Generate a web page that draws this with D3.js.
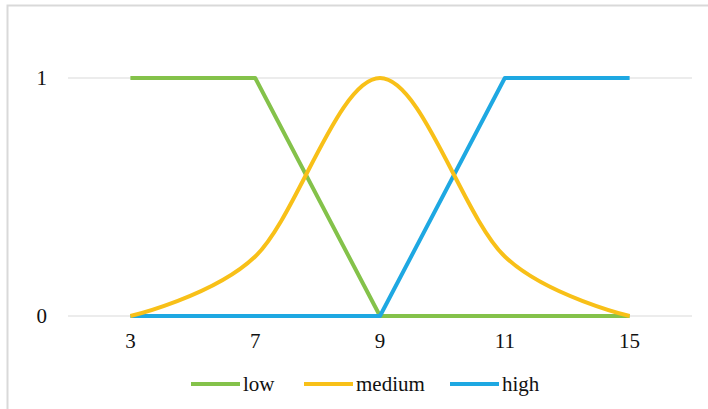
<!DOCTYPE html>
<html>
<head>
<meta charset="utf-8">
<script src="https://cdn.jsdelivr.net/npm/d3@7"></script>
<style>
  body { margin: 0; background: #fff; }
  svg text { font-family: 'Liberation Serif', 'DejaVu Serif', serif; font-size: 21px; }
</style>
</head>
<body>
<div id="chart"></div>
<script>
// x categories and membership values
var categories = ['3', '7', '9', '11', '15'];
var lowValues = [1, 1, 0, 0, 0];
var mediumValues = [0, 0.25, 1, 0.25, 0];
var highValues = [0, 0, 0, 1, 1];
var yTicks = [0, 1];
var seriesNames = ['low', 'medium', 'high'];

var width = 708;
var height = 409;
var colors = { low: '#84c24a', medium: '#f8c018', high: '#1ea8e2' };

var svg = d3.select('#chart')
  .append('svg')
  .attr('width', width)
  .attr('height', height);

// outer frame (right and bottom edges fall outside the picture)
svg.append('rect')
  .attr('x', 7.5)
  .attr('y', 5.5)
  .attr('width', 720)
  .attr('height', 420)
  .attr('fill', '#fff')
  .attr('stroke', '#d9d9d9')
  .attr('stroke-width', 2);

var x = d3.scalePoint()
  .domain(categories)
  .range([68, 692])
  .padding(0.5);

var y = d3.scaleLinear()
  .domain([0, 1])
  .range([316, 78]);

// gridlines
svg.append('g')
  .selectAll('line')
  .data(yTicks)
  .enter()
  .append('line')
  .attr('x1', 68)
  .attr('x2', 692)
  .attr('y1', function (d) { return y(d); })
  .attr('y2', function (d) { return y(d); })
  .attr('stroke', '#d9d9d9')
  .attr('stroke-width', 1);

// y labels
svg.append('g')
  .selectAll('text')
  .data(yTicks)
  .enter()
  .append('text')
  .attr('x', 47)
  .attr('y', function (d) { return y(d); })
  .attr('dy', '.33em')
  .attr('text-anchor', 'end')
  .attr('fill', '#111')
  .text(function (d) { return d; });

// x labels
svg.append('g')
  .selectAll('text')
  .data(categories)
  .enter()
  .append('text')
  .attr('x', function (d) { return x(d); })
  .attr('y', 341)
  .attr('dy', '.33em')
  .attr('text-anchor', 'middle')
  .attr('fill', '#111')
  .text(function (d) { return d; });

var series = [
  { name: 'low', values: lowValues, curve: d3.curveLinear },
  { name: 'high', values: highValues, curve: d3.curveLinear },
  { name: 'medium', values: mediumValues, curve: d3.curveCatmullRom.alpha(0) }
];

series.forEach(function (s) {
  var line = d3.line()
    .x(function (d, i) { return x(categories[i]); })
    .y(function (d) { return y(d); })
    .curve(s.curve);
  svg.append('path')
    .datum(s.values)
    .attr('d', line)
    .attr('fill', 'none')
    .attr('stroke', colors[s.name])
    .attr('stroke-width', 4)
    .attr('stroke-linejoin', 'round');
});

// legend
var legendX = [191, 304, 450];
var legend = svg.append('g')
  .selectAll('g')
  .data(seriesNames)
  .enter()
  .append('g')
  .attr('transform', function (d, i) { return 'translate(' + legendX[i] + ',384)'; });

legend.append('line')
  .attr('x1', 0)
  .attr('x2', 49)
  .attr('stroke', function (d) { return colors[d]; })
  .attr('stroke-width', 4);

legend.append('text')
  .attr('x', 52)
  .attr('dy', '.33em')
  .attr('fill', '#111')
  .text(function (d) { return d; });
</script>
</body>
</html>
